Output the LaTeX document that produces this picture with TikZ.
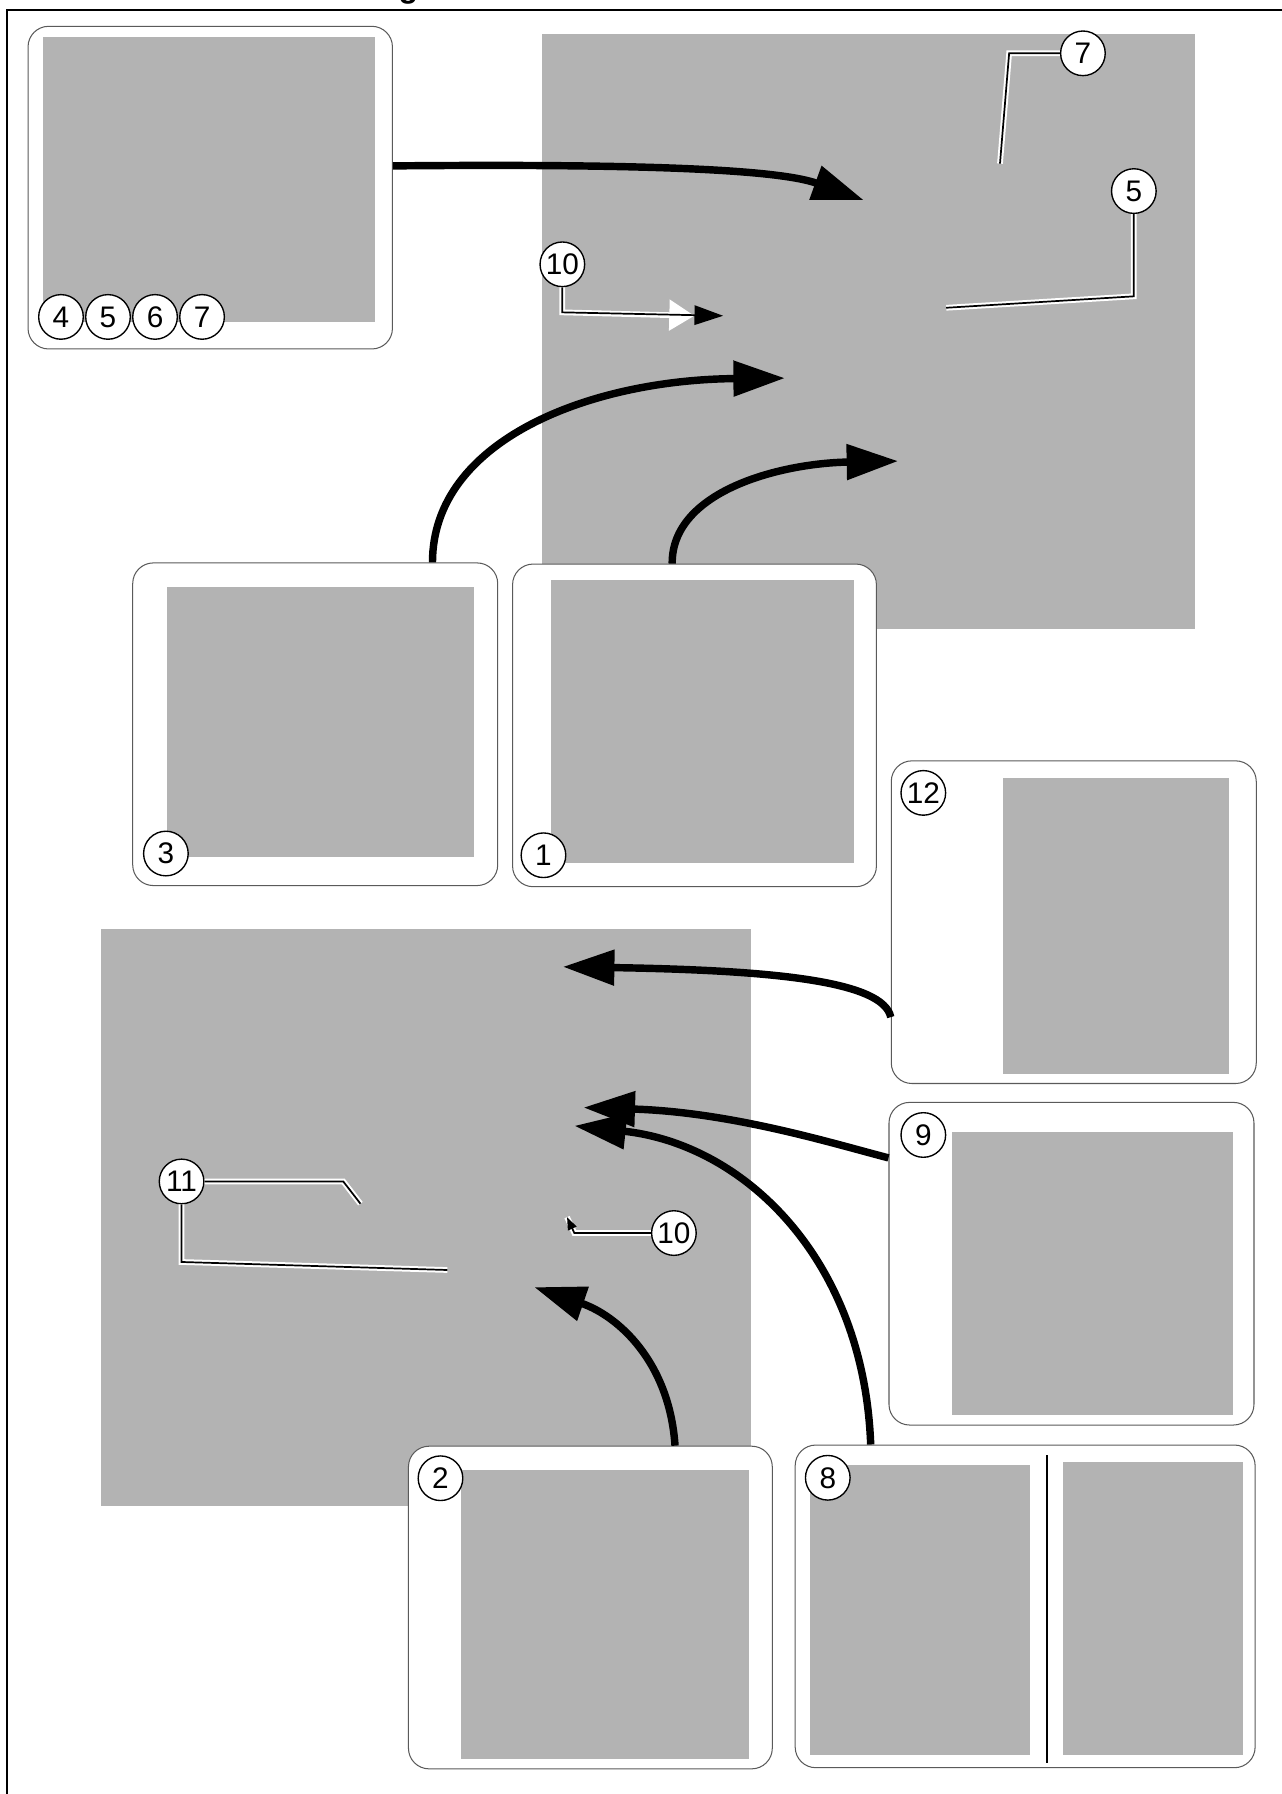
\documentclass[tikz,border=0pt]{standalone}
\usepackage{fontspec}
\setmainfont{Liberation Sans}
\usetikzlibrary{arrows.meta}
\definecolor{panelGray}{RGB}{179,179,179}
\definecolor{frameGray}{RGB}{90,90,90}

\begin{document}
\begin{tikzpicture}
[x=1pt,y=-1pt,
  every node/.style={inner sep=0pt},%
  panelBox/.style={draw=frameGray,line width=0.9pt,fill=white,rounded corners=18pt,minimum height=282pt},%
  calloutCircle/.style={circle,draw,line width=1.2pt,fill=white,minimum size=39pt,font=\fontsize{26}{30}\selectfont},%
  bigArrow/.style={line width=6.5pt,-{Triangle[length=45pt,width=30pt]}},%
  leaderHalo/.style={white,line width=5pt},%
  leaderLine/.style={black,line width=1.5pt}]
\useasboundingbox (0,0) rectangle (1120,1568);
\draw[line width=1.8pt] (6.1,1572) -- (6.1,8.7) -- (1124,8.7);
\node[anchor=base,font=\bfseries\fontsize{28}{30}\selectfont] (titleText) at (357,-2) {g};

\fill[panelGray] (474,29.7) rectangle (1044.5,550);
\fill[panelGray] (88,812) rectangle (656.5,1316.5);

\foreach \boxName/\xMid/\yMid/\boxWidth in {
  panelParts/183.75/164/318.5, panelThree/275.5/633/319, panelOne/607/634/318,
  panelTwelve/938.5/806/319, panelNine/936.5/1104.5/319, panelTwo/516/1405/318,
  panelEight/896/1404/402}
{
  \node[panelBox,minimum width=\boxWidth pt] (\boxName) at (\xMid,\yMid) {};
}
\foreach \xA/\yA/\xB/\yB in {
  38/32/328/281, 146/513/414/749, 482/507/746/754, 877/680/1074.5/938.6,
  832/989.6/1078/1237, 403/1285/655/1537, 708/1280/900.6/1534, 929/1278/1086/1534}
{
  \fill[panelGray] (\xA,\yA) rectangle (\xB,\yB);
}
\draw[line width=1.8pt] (915.5,1272) -- (915.5,1540.6);

\coordinate (tipParts) at (755,175);
\coordinate (tipThree) at (686,330.5);
\coordinate (tipOne) at (785,403);
\coordinate (tipTwelve) at (492,845);
\coordinate (tipNine) at (510,968);
\coordinate (tipEight) at (502,984);
\coordinate (tipTwo) at (467,1125);
\draw[bigArrow] ([yshift=19pt]panelParts.east) .. controls (560,143) and (680,148) .. (tipParts);
\draw[bigArrow] ([xshift=102.5pt]panelThree.north) .. controls (378,385) and (515,332) .. (tipThree);
\draw[bigArrow] ([xshift=-19.5pt]panelOne.north) .. controls (587,430) and (680,405) .. (tipOne);
\draw[bigArrow] ([yshift=-83pt]panelTwelve.west) .. controls (772,858) and (680,848) .. (tipTwelve);
\draw[bigArrow] ([yshift=92.5pt]panelNine.west) .. controls (730,1000) and (640,972) .. (tipNine);
\draw[bigArrow] ([xshift=-135pt]panelEight.north) .. controls (755,1100) and (650,1000) .. (tipEight);
\draw[bigArrow] ([xshift=74pt]panelTwo.north) .. controls (585,1190) and (540,1150) .. (tipTwo);

\foreach \partNum/\xPos in {4/53.3, 5/94.4, 6/135.5, 7/176.6}
{
  \node[calloutCircle] (part\partNum) at (\xPos,277) {\partNum};
}
\foreach \stepNum/\xPos/\yPos in {
  3/145/746, 1/475/747.5, 12/807/693, 9/807/992, 2/385/1292, 8/723.5/1291.6}
{
  \node[calloutCircle] (step\stepNum) at (\xPos,\yPos) {\stepNum};
}
\node[calloutCircle] (calloutSeven) at (946.5,46.6) {7};
\node[calloutCircle] (calloutFive) at (991,167) {5};
\node[calloutCircle] (calloutTenTop) at (491.5,231) {10};
\node[calloutCircle] (calloutEleven) at (158.7,1032.6) {11};
\node[calloutCircle] (calloutTenLow) at (589,1077.7) {10};

\coordinate (endSeven) at (874,143);
\coordinate (endFive) at (827,269);
\coordinate (endTenTopHalo) at (607,276);
\coordinate (endTenTop) at (632,276);
\coordinate (endElevenA) at (315,1052);
\coordinate (endElevenB) at (391,1110);
\coordinate (endTenLow) at (495.6,1063.8);
\foreach \layer in {leaderHalo,leaderLine}
{
  \draw[\layer] (calloutSeven.west) -- (882,46.6) -- (endSeven);
  \draw[\layer] (calloutFive.south) -- (991,259) -- (endFive);
  \draw[\layer] (calloutEleven.east) -- (300,1032.6) -- (endElevenA);
  \draw[\layer] (calloutEleven.south) -- (158.7,1103) -- (endElevenB);
}
\draw[leaderHalo,-{Triangle[length=22pt,width=26pt]}] (calloutTenTop.south) -- (491.5,273) -- (endTenTopHalo);
\draw[leaderLine,-{Triangle[length=25pt,width=17pt]}] (calloutTenTop.south) -- (491.5,273) -- (endTenTop);
\draw[leaderHalo] (calloutTenLow.west) -- (502,1077.7) -- (endTenLow);
\draw[leaderLine,-{Triangle[length=11pt,width=8pt]}] (calloutTenLow.west) -- (502,1077.7) -- (endTenLow);
\end{tikzpicture}
\end{document}
